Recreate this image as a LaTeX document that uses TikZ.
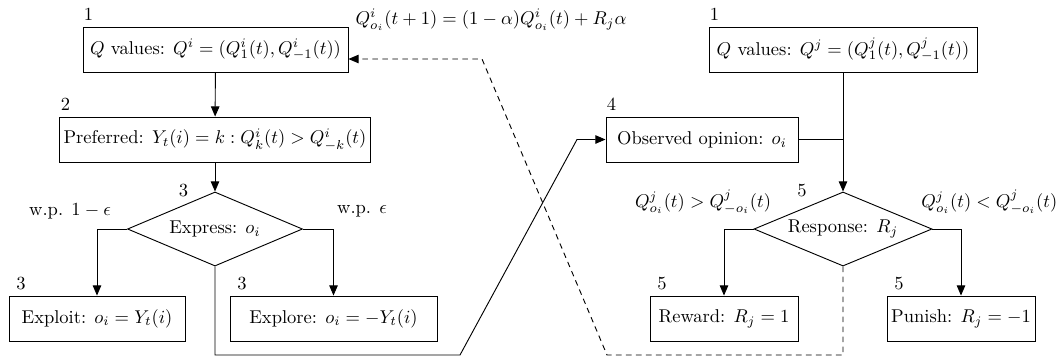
\documentclass[tikz,border=0pt]{standalone}
\usepackage{amsmath}
\usepackage{tikz}
\usetikzlibrary{shapes.geometric,arrows.meta}

\begin{document}
\begin{tikzpicture}[x=0.54pt, y=-0.54pt,
  box/.style={draw, line width=0.5pt, minimum height=24.3pt, inner sep=2pt},
  decision/.style={draw, line width=0.5pt, diamond, aspect=2.4, inner sep=0pt, minimum height=40pt},
  num/.style={anchor=south west, inner sep=0.5pt, yshift=2.5pt},
  dnum/.style={anchor=south east, inner sep=0pt},
  arr/.style={-{Triangle[length=5.5pt, width=4.6pt]}, line width=0.5pt},
  back/.style={arr, dash pattern=on 3pt off 2.4pt}]
  \useasboundingbox (0,0) rectangle (1057,358);

  % agent i
  \node[box, minimum width=143.1pt, label={[num]north west:1}] (qi) at (215.5,49.5) {$Q$ values: $Q^i=(Q^i_1(t),Q^i_{-1}(t))$};
  \node[box, minimum width=167.4pt, label={[num]north west:2}] (pref) at (215,139.5) {Preferred: $Y_t(i)=k: Q^i_k(t)>Q^i_{-k}(t)$};
  \node[decision, minimum width=94.5pt, label={[dnum, xshift=-14.3pt, yshift=-3.2pt]north:3}] (expr) at (215,229) {Express: $o_i$};
  \node[box, minimum width=95pt, label={[num, xshift=3.5pt]north west:3}] (exploit) at (97,318.5) {Exploit: $o_i=Y_t(i)$};
  \node[box, minimum width=111.8pt, label={[num, xshift=3.5pt]north west:3}] (explore) at (333.5,318.5) {Explore: $o_i=-Y_t(i)$};
  \node (pexploit) at (70,211) {w.p. $1-\epsilon$};
  \node (pexplore) at (362,211) {w.p. $\epsilon$};

  % agent j
  \node[box, minimum width=144.7pt, label={[num]north west:1}] (qj) at (843,49.5) {$Q$ values: $Q^j=(Q^j_1(t),Q^j_{-1}(t))$};
  \node[box, minimum width=103.7pt, label={[num]north west:4}] (obs) at (702,139.5) {Observed opinion: $o_i$};
  \node[decision, minimum width=96.1pt, label={[dnum, xshift=-19.4pt, yshift=-3.2pt]north:5}] (resp) at (843,229) {Response: $R_j$};
  \node[box, minimum width=79.9pt, label={[num, xshift=3.5pt]north west:5}] (reward) at (724,318.5) {Reward: $R_j=1$};
  \node[box, minimum width=79.9pt, label={[num, xshift=3.5pt]north west:5}] (punish) at (961,318.5) {Punish: $R_j=-1$};
  \node (cgreater) at (703,202) {$Q^j_{o_i}(t)>Q^j_{-o_i}(t)$};
  \node[anchor=west, inner sep=0pt] (cless) at (921,202) {$Q^j_{o_i}(t)<Q^j_{-o_i}(t)$};

  % update rule
  \node (update) at (491,20) {$Q^i_{o_i}(t+1)=(1-\alpha)Q^i_{o_i}(t)+R_j\alpha$};

  \coordinate (c1) at (460,355);
  \coordinate (c2) at (577,139.5);
  \coordinate (d1) at (607,355);
  \coordinate (d2) at (482,59);

  \draw[arr] (qi) -- (pref);
  \draw[arr] (pref) -- (expr);
  \draw[arr] (expr.west) -| (exploit.north);
  \draw[arr] (expr.east) -| (explore.north);
  \draw[arr] (expr.south) |- (c1) -- (c2) -- (obs.west);

  \draw[arr] (qj) -- (resp);
  \draw[line width=0.5pt] (obs.east) -- (obs.east -| qj.south);
  \draw[arr] (resp.west) -| (reward.north);
  \draw[arr] (resp.east) -| (punish.north);
  \draw[back] (resp.south) |- (d1) -- (d2) -- (qi.east |- d2);
\end{tikzpicture}
\end{document}
